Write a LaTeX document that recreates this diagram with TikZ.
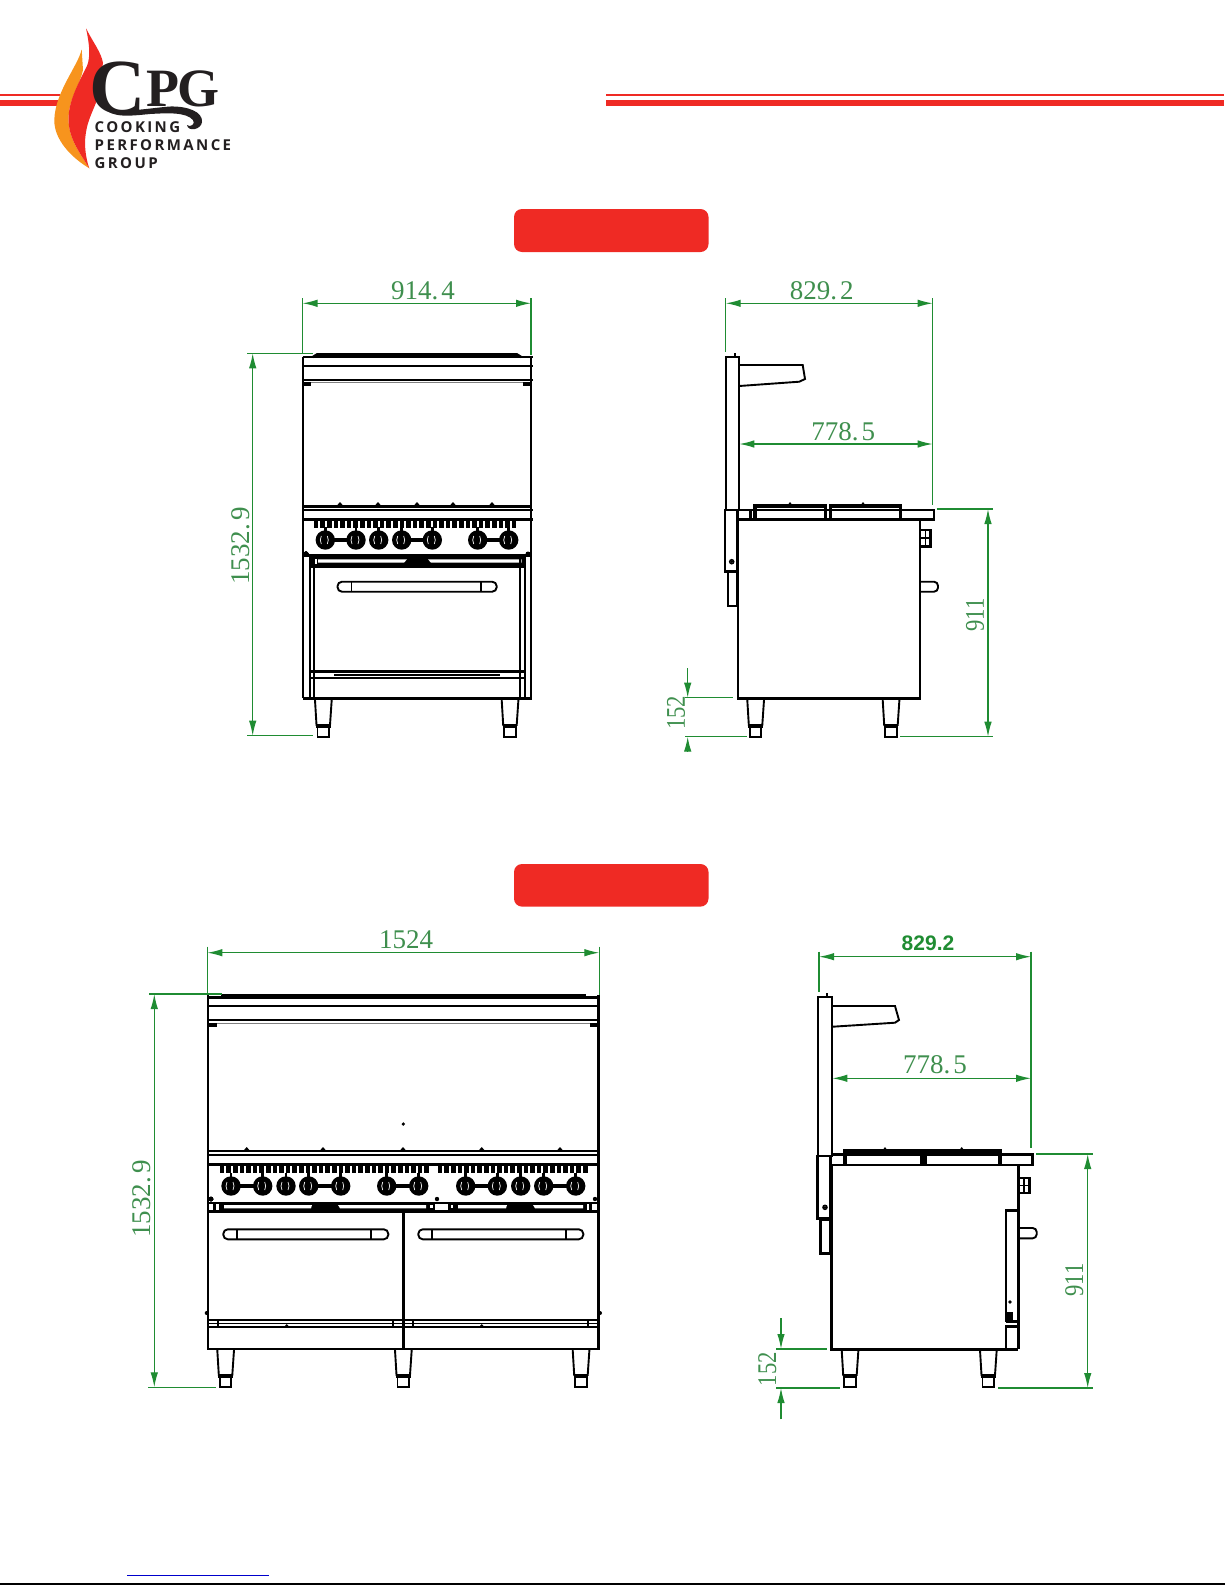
\documentclass[tikz,border=0pt]{standalone}
\usepackage{fontspec}
\usetikzlibrary{arrows.meta}
\setmainfont{Liberation Serif}
\newfontfamily\logofont[LetterSpace=16]{Open Sans}
\newfontfamily\sansfont{Liberation Sans}
\definecolor{cpgred}{HTML}{EF2A24}
\definecolor{cpgorange}{HTML}{F7941D}
\definecolor{cpgink}{HTML}{231F20}
\definecolor{dimgreen}{HTML}{1F8C32}
\definecolor{dimtext}{HTML}{3F8F4E}
\definecolor{linkblue}{HTML}{0000CC}
\tikzset{ln/.style={draw=black,line width=1.5pt}}
\tikzset{lnm/.style={draw=black,line width=1.9pt}}
\tikzset{lnb/.style={draw=black,line width=2.6pt}}
\tikzset{lng/.style={draw=black,line width=3.4pt}}
\tikzset{dim/.style={draw=dimgreen,line width=1.3pt,{Latex[length=15pt,width=7.5pt]}-{Latex[length=15pt,width=7.5pt]}}}
\tikzset{dimup/.style={draw=dimgreen,line width=1.3pt,-{Latex[length=15pt,width=7.5pt]}}}
\tikzset{ext/.style={draw=dimgreen,line width=1.2pt}}
\tikzset{dimtxt/.style={text=dimtext,inner sep=0pt,font=\fontsize{27}{27}\selectfont}}
\tikzset{dimsmall/.style={dimtxt,xscale=.84,transform shape}}
\tikzset{banner/.style={fill=cpgred,rounded corners=8pt}}
\tikzset{logotxt/.style={text=cpgink,inner sep=0pt,anchor=base west,font=\logofont\bfseries\fontsize{15}{15}\selectfont}}
\newcommand{\knob}[2]{
        \fill (#1,#2) circle (9.7);
        \draw[white,line width=.7pt] (#1-4,#2-4) to[bend right=25] (#1-4,#2+4);
        \draw[white,line width=.7pt] (#1+2,#2-4) to[bend left=25] (#1+2,#2+4);
        \draw[lnb] (#1,#2-13) -- (#1,#2-8);
}
\newcommand{\knobbar}[3]{\draw[line width=3.6pt] (#1,#3) -- (#2,#3);}
\newcommand{\leg}[2]{
        \draw[lnm] (#1,#2) -- (#1+1.5,#2+25) -- (#1+15,#2+25) -- (#1+16.7,#2);
        \draw[lnb] (#1+1,#2+27) -- (#1+15.7,#2+27);
        \draw[lnm] (#1+2.5,#2+27) rectangle (#1+14,#2+37);
}
\newcommand{\handle}[4]{
        \draw[lnm,rounded corners=4.5pt] (#1,#3) rectangle (#2,#3+10);
        \draw[lnm] (#1+14,#3) -- (#1+14,#3+10);
        \draw[lnm] (#4,#3) -- (#4,#3+10);
}
\begin{document}
\begin{tikzpicture}[x=1pt,y=-1pt]
        \useasboundingbox (0,0) rectangle (1225,1585);
        \fill[cpgred] (0,94.3) rectangle (60,96.2);
        \fill[cpgred] (0,100) rectangle (60,105.7);
        \fill[cpgred] (606,94) rectangle (1224,96);
        \fill[cpgred] (606,100) rectangle (1224,106);
        \fill[cpgorange] (81.7,49.3) .. controls (78,66) and (55,92) .. (54.3,120)
                .. controls (54,140) and (72,158) .. (89.3,168.3)
                .. controls (78,150) and (66,135) .. (69,112)
                .. controls (71,96) and (80,84) .. (83,70) -- cycle;
        \fill[cpgred] (86,28.3) .. controls (94,44) and (101,52) .. (103,63)
                -- (97,100) .. controls (92,114) and (86,122) .. (85,142)
                .. controls (85,152) and (87,162) .. (89.3,168.3)
                .. controls (78,150) and (66,135) .. (69,112)
                .. controls (71,96) and (81,78) .. (87,66)
                .. controls (91,56) and (89,42) .. (86,28.3) -- cycle;
        \node (logoc) [text=cpgink,inner sep=0pt,anchor=base west,font=\bfseries\fontsize{78}{78}\selectfont] at (89,113) {C};
        \node (logopg) [text=cpgink,inner sep=0pt,anchor=base west,font=\bfseries\fontsize{54}{54}\selectfont] at (146,106.5) {P\kern-1.5ptG};
        \fill[cpgink] (104,108) .. controls (118,114) and (150,108) .. (170,106.5)
                .. controls (188,106) and (203,112) .. (202,122)
                .. controls (201,130) and (188,132) .. (187,125)
                .. controls (190,128) and (196,124) .. (193,120)
                .. controls (186,112) and (168,113) .. (150,114)
                .. controls (130,116) and (112,118) .. (104,108) -- cycle;
        \node (cooking) [logotxt] at (94.5,132) {COOKING};
        \node (perf) [logotxt] at (94.5,150.3) {PERFORMANCE};
        \node (group) [logotxt] at (94.5,168.6) {GROUP};
        \fill[banner] (514,209) rectangle (708.5,252);
        \fill[banner] (514,864) rectangle (708.5,906.6);
        \fill[linkblue] (127,1574.6) rectangle (268.7,1576);
        \fill[black] (0,1583) rectangle (1225,1585);

        \draw[lnb] (313,357) -- (317,354.5) -- (517,354.5) -- (521,357);
        \draw[lnm] (302.5,357) -- (533,357);
        \draw[lnb] (302.5,366) -- (533,366);
        \draw[lnb] (302.5,380) -- (533,380);
        \draw[gray,line width=1pt] (304,382.5) -- (531,382.5);
        \draw[lnb] (303,357) -- (303,698.3);
        \draw[lnb] (531,357) -- (531,698.3);
        \fill (304,382) rectangle (311,386);
        \fill (523,382) rectangle (530,386);
        \draw[lnb] (302.7,506.5) -- (531,506.5);
        \foreach \t in {340,378,417,453,492} \fill (\t-3.5,506) -- (\t,502) -- (\t+3.5,506) -- cycle;
        \foreach \t in {320,360,400,440,470,510} \fill (\t-8,506) rectangle (\t+8,504.5);
        \draw[lnb] (302,510) -- (533,510);
        \draw[lnb] (302,519.5) -- (533,519.5);
        \foreach \t in {316,322.6,...,520} \draw[line width=4.6pt] (\t,519.5) -- (\t,527.5);
        \knobbar{325.3}{356}{540}
        \knobbar{401.7}{432.3}{540}
        \knobbar{477.7}{508.7}{540}
        \foreach \t in {325.3,356,378.7,401.7,432.3,477.7,508.7} \knob{\t}{540}
        \fill (306,554) circle (2.5);
        \fill (528,554) circle (2.5);
        \fill (302.7,553.5) rectangle (531,556.5);
        \fill (310,556) rectangle (525,567.5);
        \fill[white] (314.5,558.5) rectangle (317,563.5);
        \fill[white] (318,559.3) -- (407,559.3) -- (404,562.7) -- (318,562.7) -- cycle;
        \fill[white] (428,559.3) -- (521.7,559.3) -- (521.7,562.7) -- (431,562.7) -- cycle;
        \draw[lnm] (310,556) -- (310,698.3);
        \draw[lnm] (314,556) -- (314,698.3);
        \draw[lnm] (520,556) -- (520,698.3);
        \draw[lnm] (525,556) -- (525,698.3);
        \handle{337.5}{496.7}{581.7}{480.7}
        \draw[lnb] (310,671.7) -- (525,671.7);
        \draw[ln] (334,675) -- (500,675);
        \draw[lnb] (310,678) -- (525,678);
        \draw[lnb] (302.5,698.3) -- (532,698.3);
        \leg{315}{700}
        \leg{501.7}{700}

        \coordinate (fa) at (302.5,303.3);
        \coordinate (fb) at (531,303.3);
        \draw[ext] (302.5,298) -- (302.5,354);
        \draw[ext] (531,298) -- (531,355);
        \draw[dim] (fa) -- (fb);
        \node (fw) [dimtxt] at (423,291) {914.\hspace{3pt}4};
        \coordinate (fc) at (252.7,353.3);
        \coordinate (fd) at (252.7,735.7);
        \draw[ext] (247,353.3) -- (313,353.3);
        \draw[ext] (247,735.7) -- (313,735.7);
        \draw[dim] (fc) -- (fd);
        \node (fh) [dimtxt,rotate=90] at (240.5,546) {1532.\hspace{3pt}9};

        \draw[lnm] (725.7,356.7) rectangle (739.3,510);
        \fill (734,353) rectangle (736,357);
        \draw[lnm] (739.3,365) -- (799.3,365) -- (802.7,365) -- (805,379) -- (799.3,381.7) -- (739.3,386);
        \draw[lnb] (725,510) rectangle (737.3,571.7);
        \draw[ln] (731.7,561.7) circle (2);
        \fill (731.7,561.7) circle (1.5);
        \draw[lnm] (728.3,571.7) rectangle (737.3,606);
        \draw[lnb] (739,510) -- (934,510) -- (934,519.3) -- (739,519.3);
        \draw[lnb] (750.5,510) -- (750.5,519);
        \draw[lng] (755,519) -- (755,506) -- (825.7,506) -- (825.7,519);
        \draw[lng] (830.7,519) -- (830.7,506) -- (900.7,506) -- (900.7,519);
        \foreach \t in {790,863} \fill (\t-3,506) -- (\t,502) -- (\t+3,506) -- cycle;
        \draw[lnb] (738,519.3) -- (738,698.3) -- (920,698.3) -- (920,519.3);
        \draw[lnb] (920.5,530) -- (930.7,530) -- (930.7,546.7) -- (920.5,546.7);
        \draw[ln] (925.5,530) -- (925.5,546.7);
        \draw[ln] (921,538) -- (930.7,538);
        \draw[lnm,rounded corners=4pt] (921,581.7) -- (938,581.7) -- (938,591.7) -- (921,591.7);
        \leg{747.3}{700}
        \leg{882.7}{700}

        \coordinate (sa) at (725.7,303.3);
        \coordinate (sb) at (932.7,303.3);
        \coordinate (sc) at (739.3,444);
        \coordinate (sd) at (932.7,444);
        \coordinate (se) at (988,509);
        \coordinate (sf) at (988,736.7);
        \draw[ext] (725.7,298) -- (725.7,351.7);
        \draw[ext] (932.7,298) -- (932.7,505);
        \draw[ext] (936.7,509) -- (993,509);
        \draw[ext] (900,736.7) -- (993,736.7);
        \draw[ext] (685,697.7) -- (733,697.7);
        \draw[ext] (685,736.7) -- (746.7,736.7);
        \draw[dim] (sa) -- (sb);
        \draw[dim] (sc) -- (sd);
        \draw[dim] (se) -- (sf);
        \coordinate (sg) at (687.7,668);
        \coordinate (sh) at (687.7,697.7);
        \coordinate (si) at (687.7,751.7);
        \coordinate (sj) at (687.7,736.7);
        \draw[dimup] (sg) -- (sh);
        \draw[dimup] (si) -- (sj);
        \node (sw) [dimtxt] at (821.7,291) {829.\hspace{3pt}2};
        \node (sm) [dimtxt] at (843.3,431.7) {778.\hspace{3pt}5};
        \node (sh1) [rotate=90,dimsmall] at (975,615) {911};
        \node (sh2) [rotate=90,dimsmall] at (676,712.7) {152};

        \draw[lnb] (221,995.5) -- (586,995.5);
        \draw[lnb] (207.3,997.6) -- (599.3,997.6);
        \draw[lnb] (207.3,1006) -- (599.3,1006);
        \draw[lnb] (207.3,1020) -- (599.3,1020);
        \draw[gray,line width=1pt] (208,1023) -- (598,1023);
        \draw[lnb] (208,995) -- (208,1349);
        \draw[lnb] (598.7,995) -- (598.7,1349);
        \fill (209,1023) rectangle (217,1027);
        \fill (589.5,1023) rectangle (597.5,1027);
        \fill (403.3,1124) circle (1.8);
        \draw[lnb] (207.3,1151) -- (599.3,1151);
        \foreach \t in {246.7,323,403,481.7,560} \fill (\t-3.5,1151) -- (\t,1147) -- (\t+3.5,1151) -- cycle;
        \foreach \t in {225,265,300,345,385,425,460,505,540,580} \fill (\t-8,1151) rectangle (\t+8,1149.5);
        \draw[lnb] (207,1155) -- (600,1155);
        \draw[lnb] (207,1164.5) -- (600,1164.5);
        \foreach \t in {222,228.6,...,428} \draw[line width=4.6pt] (\t,1164.5) -- (\t,1173);
        \foreach \t in {440,446.6,...,586} \draw[line width=4.6pt] (\t,1164.5) -- (\t,1173);
        \knobbar{231}{262.7}{1186}
        \knobbar{308.7}{340.7}{1186}
        \knobbar{386.7}{418.7}{1186}
        \knobbar{465.7}{497.3}{1186}
        \knobbar{543.7}{575.7}{1186}
        \foreach \t in {231,262.7,286,308.7,340.7,386.7,418.7,465.7,497.3,520.7,543.7,575.7} \knob{\t}{1186}
        \fill (211,1199) circle (2.2);
        \fill (437,1199) circle (2.2);
        \fill (595,1199) circle (2.2);
        \fill (207.3,1201.7) rectangle (599.3,1213.3);
        \fill[white] (209,1204) rectangle (213.3,1210);
        \fill[white] (216,1204) rectangle (219,1210);
        \fill[white] (224,1205) -- (312,1205) -- (311,1208.3) -- (224,1208.3) -- cycle;
        \fill[white] (338,1205) -- (426,1205) -- (426,1208.3) -- (340,1208.3) -- cycle;
        \fill[white] (435,1204) rectangle (448,1209.5);
        \fill[white] (430,1205) rectangle (432.5,1208);
        \fill[white] (451,1205) rectangle (453,1208);
        \fill[white] (458,1205) -- (507,1205) -- (506,1208.3) -- (458,1208.3) -- cycle;
        \fill[white] (533,1205) -- (583,1205) -- (583,1208.3) -- (535,1208.3) -- cycle;
        \fill[white] (587,1204) rectangle (589.3,1210);
        \fill[white] (592,1204) rectangle (597,1210);
        \draw[lnb] (403.3,1213) -- (403.3,1349);
        \handle{223.3}{388.3}{1229.3}{370.7}
        \handle{418.3}{583.3}{1229.3}{565.7}
        \fill (206.7,1313) circle (2);
        \fill (600,1313) circle (2);
        \draw[lnb] (208,1320) -- (598.7,1320);
        \draw[ln] (208,1323.5) -- (598.7,1323.5);
        \draw[lnb] (208,1327) -- (598.7,1327);
        \foreach \t in {218,392.7,413,587.7} \draw[lnm] (\t,1320) -- (\t,1327);
        \fill (286.7,1325.7) circle (1.6);
        \fill (481.7,1325.7) circle (1.6);
        \draw[lnb] (207,1349) -- (600,1349);
        \leg{217.3}{1350}
        \leg{395}{1350}
        \leg{572.7}{1350}

        \coordinate (ra) at (207.3,952.7);
        \coordinate (rb) at (599.3,952.7);
        \coordinate (rc) at (154.3,994);
        \coordinate (rd) at (154.3,1387.3);
        \draw[ext] (207.3,946.7) -- (207.3,994);
        \draw[ext] (599.3,946.7) -- (599.3,995);
        \draw[ext] (149,994) -- (222,994);
        \draw[ext] (148,1387.3) -- (216,1387.3);
        \draw[dim] (ra) -- (rb);
        \draw[dim] (rc) -- (rd);
        \node (rw) [dimtxt] at (406,940) {1524};
        \node (rh) [dimtxt,rotate=90] at (141.7,1199) {1532.\hspace{3pt}9};

        \draw[lnm] (818.3,996.7) rectangle (831.7,1156);
        \fill (826,993) rectangle (828,997);
        \draw[lnm] (832.7,1006) -- (895,1006) -- (899,1020) -- (895,1022.7) -- (832.7,1026.7);
        \draw[lnb] (817.7,1156) rectangle (830.7,1218.3);
        \draw[ln] (825,1207.3) circle (2);
        \fill (825,1207.3) circle (1.5);
        \draw[lnb] (820.7,1220) rectangle (830.7,1253.3);
        \draw[lnb] (830.7,1154.5) -- (1032.7,1154.5) -- (1032.7,1165) -- (830.7,1165);
        \draw[lng] (845,1165) -- (845,1151) -- (921.7,1151) -- (921.7,1165);
        \draw[lng] (925,1165) -- (925,1151) -- (1000,1151) -- (1000,1165);
        \foreach \t in {885,961.7} \fill (\t-3,1151) -- (\t,1147) -- (\t+3,1151) -- cycle;
        \draw[lnb] (831.7,1165) -- (831.7,1349.3) -- (1018.3,1349.3);
        \draw[lnb] (1018.3,1165) -- (1018.3,1349.3);
        \draw[lnb] (1019,1178) -- (1029.3,1178) -- (1029.3,1193) -- (1019,1193);
        \draw[ln] (1024,1178) -- (1024,1193);
        \draw[ln] (1019,1185.5) -- (1029.3,1185.5);
        \draw[lnb] (1018.3,1210.7) -- (1006,1210.7) -- (1006,1321.7);
        \draw[lnb] (1006,1321.7) -- (1018.3,1321.7);
        \draw[lnb] (1018.3,1326.7) -- (1006,1326.7) -- (1006,1349);
        \fill (1010,1302) circle (1.8);
        \fill (1007,1312) rectangle (1013,1320);
        \draw[lnm,rounded corners=4pt] (1019,1228) -- (1036.7,1228) -- (1036.7,1238.3) -- (1019,1238.3);
        \leg{841.7}{1350}
        \leg{980}{1350}

        \coordinate (ta) at (819,956.7);
        \coordinate (tb) at (1031,956.7);
        \coordinate (tc) at (832.3,1078.3);
        \coordinate (td) at (1031,1078.3);
        \coordinate (te) at (1087.7,1154);
        \coordinate (tf) at (1087.7,1388);
        \draw[ext] (819,951.7) -- (819,991.7);
        \draw[ext] (1031,951.7) -- (1031,1148.3);
        \draw[ext] (1036,1154) -- (1092.7,1154);
        \draw[ext] (998.3,1388) -- (1092.7,1388);
        \draw[ext] (776,1349) -- (827.3,1349);
        \draw[ext] (776,1388) -- (840,1388);
        \draw[dim] (ta) -- (tb);
        \draw[dim] (tc) -- (td);
        \draw[dim] (te) -- (tf);
        \coordinate (tg) at (781,1318.3);
        \coordinate (th) at (781,1349);
        \coordinate (ti) at (781,1419.3);
        \coordinate (tj) at (781,1388);
        \draw[dimup] (tg) -- (th);
        \draw[dimup] (ti) -- (tj);
        \node (tw) [dimtxt,text=dimgreen,font=\sansfont\bfseries\fontsize{21}{21}\selectfont] at (928,943) {829.2};
        \node (tm) [dimtxt] at (935,1065) {778.\hspace{3pt}5};
        \node (th1) [rotate=90,dimsmall] at (1074.3,1280) {911};
        \node (th2) [rotate=90,dimsmall] at (767.3,1369.3) {152};
\end{tikzpicture}
\end{document}
